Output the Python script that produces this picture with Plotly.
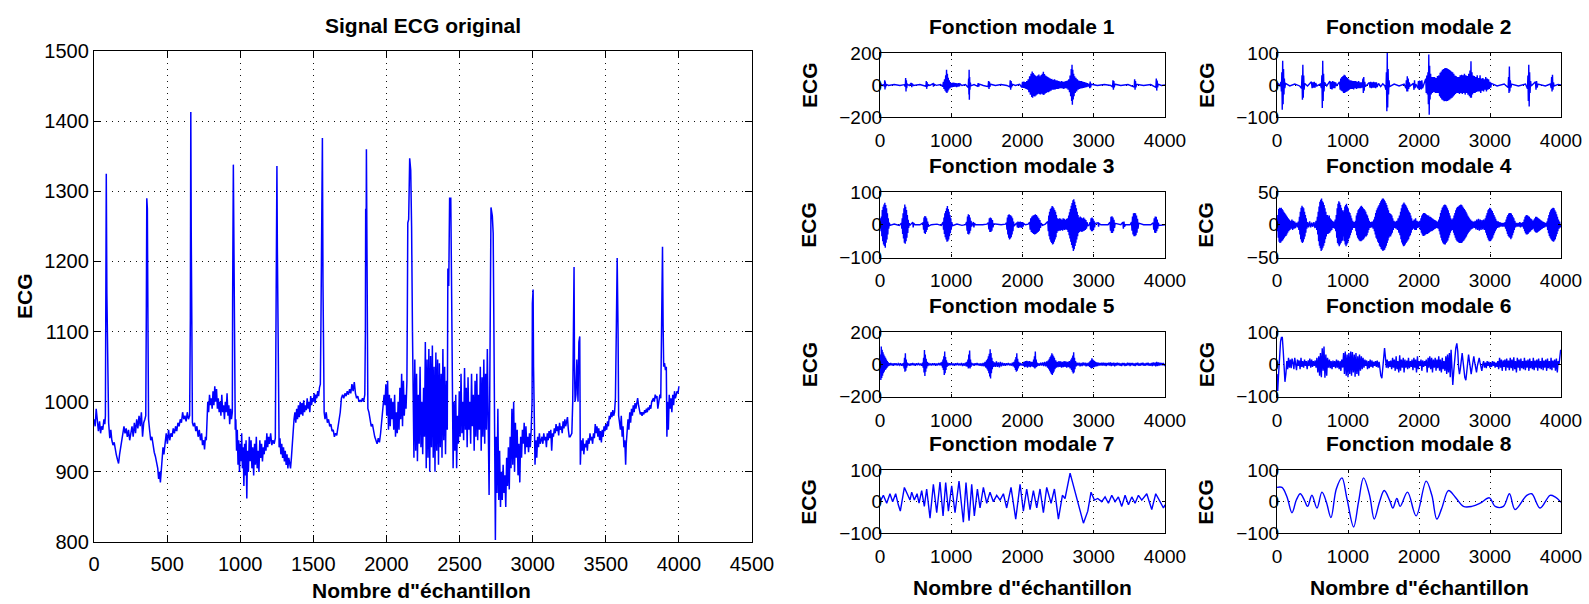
import plotly.graph_objects as go

# ---------------- data ----------------
# original ECG record: (sample index, amplitude)
ecg_points = [
    (0, 975), (8, 965), (15, 990), (22, 968), (30, 958), (38, 972), (45, 955), (52, 965), (60, 960), (68, 975), (74, 968), (78, 980),
    (80, 1090), (84, 1325), (88, 1155), (92, 1090), (96, 975),
    (100, 970), (108, 948), (115, 960), (122, 945), (130, 938), (138, 942), (145, 930), (152, 925), (160, 918), (168, 912), (175, 925),
    (182, 935), (190, 945), (198, 958), (205, 965), (212, 955), (220, 962), (228, 950), (236, 960), (244, 945), (252, 958), (260, 965),
    (268, 950), (276, 970), (284, 955), (292, 975), (300, 962), (308, 980), (316, 965), (324, 985), (332, 950), (340, 970), (348, 975), (354, 980),
    (358, 1135), (361, 1290), (365, 1275), (369, 1110), (373, 975),
    (380, 960), (388, 945), (396, 950), (404, 935), (412, 928), (420, 922), (428, 912), (436, 905), (442, 890), (448, 900), (454, 885),
    (460, 905), (466, 920), (472, 935), (478, 925), (486, 945), (494, 955), (502, 940), (510, 960), (518, 945), (526, 955), (534, 950),
    (542, 962), (550, 955), (558, 965), (566, 958), (574, 970), (582, 965), (590, 975), (598, 970), (606, 985), (614, 975), (622, 980),
    (630, 972), (638, 985), (646, 975), (654, 980),
    (659, 1120), (662, 1413), (665, 1240), (669, 1115), (673, 970),
    (680, 965), (688, 970), (696, 958), (704, 965), (712, 950), (720, 960), (728, 945), (736, 955), (742, 938), (750, 945), (756, 932),
    (762, 950), (768, 945), (772, 975), (778, 1000), (784, 985), (790, 1010), (796, 995), (802, 1005), (808, 990), (814, 1015), (820, 995),
    (826, 1022), (832, 1000), (838, 1018), (844, 990), (850, 1005), (856, 985), (862, 1000), (868, 980), (874, 1010), (880, 985),
    (886, 995), (892, 975), (898, 1000), (904, 985), (910, 1012), (916, 980), (922, 995), (928, 968), (934, 990), (940, 975), (946, 985),
    (948, 1145), (950, 1240), (953, 1338), (956, 1250), (958, 1150), (962, 1000),
    (966, 960), (970, 975), (975, 930), (980, 960), (985, 910), (990, 945), (995, 900), (1000, 940), (1005, 915), (1010, 955), (1015, 905),
    (1020, 935), (1025, 880), (1030, 940), (1035, 895), (1040, 945), (1045, 862), (1050, 930), (1056, 900), (1062, 950), (1068, 915),
    (1074, 945), (1080, 905), (1086, 935), (1092, 895), (1098, 940), (1104, 910), (1110, 950), (1116, 905), (1122, 930), (1128, 900),
    (1134, 945), (1140, 920), (1146, 940), (1152, 915), (1158, 935), (1164, 925), (1170, 945), (1176, 930), (1182, 955), (1188, 935),
    (1194, 950), (1200, 940), (1208, 955), (1216, 938), (1224, 945), (1232, 940), (1240, 948),
    (1244, 1150), (1248, 1250), (1251, 1336), (1254, 1220), (1257, 1150), (1261, 950),
    (1266, 935), (1272, 948), (1278, 925), (1284, 940), (1290, 920), (1296, 935), (1302, 915), (1308, 930), (1314, 910), (1320, 925),
    (1326, 905), (1332, 920), (1338, 910), (1344, 905), (1350, 920), (1356, 945), (1362, 955), (1368, 975), (1374, 985), (1380, 970),
    (1386, 990), (1392, 975), (1398, 995), (1404, 978), (1410, 1000), (1416, 982), (1422, 998), (1428, 980), (1434, 1002), (1440, 985),
    (1446, 995), (1452, 988), (1458, 1005), (1464, 990), (1470, 1000), (1476, 985), (1482, 1008), (1488, 995), (1494, 1005), (1500, 1000),
    (1506, 1012), (1512, 998), (1518, 1010), (1524, 1005), (1530, 1015), (1536, 1008), (1542, 1020), (1548, 1025),
    (1552, 1110), (1555, 1245), (1559, 1290), (1562, 1376), (1566, 1170), (1570, 1100), (1574, 985),
    (1580, 975), (1588, 985), (1596, 970), (1604, 975), (1612, 965), (1620, 968), (1628, 958), (1636, 960), (1644, 950), (1652, 955),
    (1660, 952), (1668, 965), (1676, 970), (1684, 985), (1692, 1005), (1700, 1010), (1708, 1005), (1716, 1012), (1724, 1008), (1732, 1015),
    (1740, 1010), (1748, 1018), (1756, 1012), (1764, 1025), (1772, 1015), (1780, 1028), (1788, 1012), (1796, 1005), (1804, 1008),
    (1812, 1000), (1820, 1002), (1828, 1000), (1836, 1005), (1844, 1000), (1852, 1010),
    (1856, 1100), (1858, 1275), (1861, 1225), (1863, 1360), (1866, 1245), (1869, 1100), (1873, 990),
    (1880, 985), (1888, 975), (1896, 965), (1904, 968), (1912, 955), (1920, 950), (1928, 945), (1936, 940), (1944, 948), (1952, 942),
    (1960, 955), (1968, 975), (1976, 990), (1984, 1010), (1990, 995), (1996, 1025), (2002, 980), (2008, 1030), (2014, 960), (2020, 1010),
    (2026, 965), (2032, 1005), (2038, 975), (2044, 1000), (2050, 960), (2056, 1010), (2062, 950), (2068, 985), (2074, 955), (2080, 1000),
    (2086, 960), (2092, 1020), (2098, 975), (2104, 1040), (2110, 965), (2116, 1030), (2122, 980), (2128, 1010), (2134, 990), (2140, 1030),
    (2143, 1130), (2146, 1255), (2152, 1260), (2159, 1347), (2166, 1330), (2172, 1250), (2178, 1100), (2183, 980),
    (2188, 920), (2194, 1060), (2200, 930), (2206, 1040), (2212, 915), (2218, 1010), (2224, 940), (2230, 1050), (2236, 935), (2242, 1000),
    (2248, 925), (2254, 1020), (2260, 950), (2266, 1085), (2272, 905), (2278, 1060), (2284, 920), (2290, 1075), (2296, 900), (2302, 1065),
    (2308, 935), (2314, 1080), (2320, 920), (2326, 1050), (2332, 900), (2338, 1070), (2344, 930), (2350, 1060), (2356, 910), (2362, 1055),
    (2368, 935), (2374, 1040), (2380, 920), (2386, 1075), (2392, 945), (2398, 1050), (2404, 925), (2410, 1030), (2416, 960),
    (2420, 1190), (2426, 1165), (2432, 1290), (2440, 1290), (2446, 1150), (2450, 990),
    (2456, 905), (2462, 1000), (2468, 930), (2474, 1010), (2480, 905), (2486, 980), (2492, 940), (2498, 1015),
    (2504, 950), (2510, 1040), (2516, 955), (2522, 1000), (2528, 945), (2534, 1048), (2540, 960), (2546, 1020), (2552, 935), (2558, 1035),
    (2564, 960), (2570, 1000), (2576, 940), (2582, 1040), (2588, 965), (2594, 1010), (2600, 930), (2606, 1030), (2612, 950), (2618, 1040),
    (2624, 945), (2630, 1010), (2636, 960), (2642, 1050), (2648, 930), (2654, 1035), (2660, 950), (2666, 1060), (2672, 940), (2678, 1040),
    (2684, 960), (2690, 1075), (2696, 920), (2702, 867), (2706, 1000),
    (2710, 1100), (2715, 1277), (2724, 1265), (2730, 1240), (2735, 1100),
    (2745, 803), (2750, 950), (2756, 870), (2762, 990), (2768, 860), (2774, 930), (2780, 850), (2786, 900), (2792, 860), (2798, 910),
    (2804, 870), (2810, 895), (2816, 850), (2822, 920), (2828, 880), (2834, 935), (2840, 875), (2846, 950), (2852, 905), (2858, 990),
    (2864, 910), (2870, 1000), (2876, 900), (2882, 970), (2888, 920), (2894, 960), (2900, 895), (2906, 940), (2912, 885), (2918, 950),
    (2924, 920), (2930, 960), (2936, 940), (2942, 970), (2948, 925), (2954, 965), (2960, 935), (2966, 950), (2972, 928), (2978, 955),
    (2984, 935), (2990, 960), (2996, 1000),
    (2998, 1140), (3003, 1160), (3006, 1050), (3010, 960),
    (3016, 910), (3022, 945), (3028, 920), (3034, 950), (3040, 935), (3046, 955), (3052, 940), (3058, 945), (3064, 950), (3070, 940),
    (3076, 955), (3082, 945), (3088, 950), (3094, 935), (3100, 955), (3106, 945), (3112, 958), (3118, 948), (3124, 960), (3130, 930),
    (3136, 955), (3142, 950), (3148, 962), (3154, 955), (3160, 968), (3166, 958), (3172, 965), (3178, 952), (3184, 970), (3190, 960),
    (3196, 965), (3202, 955), (3208, 972), (3214, 962), (3220, 975), (3226, 965), (3232, 970), (3238, 978), (3244, 960), (3250, 950),
    (3256, 950), (3262, 952), (3268, 955),
    (3274, 1000), (3278, 1100), (3283, 1192), (3286, 1050), (3290, 1000), (3296, 1010), (3302, 1060), (3310, 1000), (3316, 1085),
    (3322, 1093), (3326, 910),
    (3332, 945), (3338, 930), (3344, 948), (3350, 925), (3356, 940), (3362, 935), (3368, 945), (3374, 930), (3380, 948), (3386, 940),
    (3392, 955), (3398, 945), (3404, 950), (3410, 940), (3416, 955), (3422, 948), (3428, 968), (3434, 955), (3440, 965), (3446, 950),
    (3452, 962), (3458, 945), (3464, 958), (3470, 942), (3476, 960), (3482, 950), (3488, 965), (3494, 958), (3500, 968), (3506, 960),
    (3512, 972), (3518, 965), (3524, 980), (3530, 975), (3536, 985), (3542, 978), (3548, 988), (3554, 980), (3560, 985), (3566, 1005),
    (3572, 1100), (3578, 1205), (3584, 1100), (3588, 980),
    (3594, 970), (3600, 960), (3606, 980), (3612, 950), (3618, 965), (3624, 935), (3630, 945), (3636, 910), (3640, 940), (3646, 960),
    (3652, 975), (3658, 960), (3664, 985), (3670, 970), (3676, 990), (3682, 980), (3688, 995), (3694, 985), (3700, 998), (3706, 990),
    (3712, 1000), (3718, 1005), (3724, 995), (3730, 990), (3736, 982), (3742, 985), (3748, 980), (3754, 985), (3760, 982), (3766, 988),
    (3772, 984), (3778, 990), (3784, 985), (3790, 992), (3796, 988), (3802, 995), (3808, 990), (3814, 1000), (3820, 1002), (3826, 1005),
    (3832, 1000), (3838, 1010), (3844, 1005), (3850, 1008), (3856, 990), (3862, 1000), (3870, 1010), (3876, 1005),
    (3882, 1100), (3888, 1221), (3892, 1110), (3896, 1050), (3902, 1055), (3908, 1045), (3914, 1050), (3918, 950),
    (3922, 1000), (3928, 960), (3934, 1010), (3940, 990), (3946, 1005), (3952, 985), (3958, 1010), (3964, 995), (3970, 1015),
    (3976, 1005), (3982, 1010), (3988, 1015), (3994, 1012), (4000, 1022),
]

# intrinsic mode functions 1..8: (sample index, amplitude)
imf1_points = [
    (0, 0), (20, 4), (40, -4), (55, 3), (62, -10), (66, 30), (70, -28), (74, 22), (78, -15), (84, 5),
    (120, -3), (200, 3), (280, -3), (340, 2), (355, -10), (360, 44), (365, -40), (370, 30), (375, -20), (382, 6),
    (410, -3), (440, 12), (446, -14), (452, 8), (470, -3), (560, 3), (630, -3),
    (645, -8), (650, 25), (655, -24), (660, 18), (666, -10), (672, 3),
    (700, -3), (745, 8), (750, -10), (756, 6), (790, -2), (850, 3),
    (880, -10), (890, 20), (898, -25), (906, 35), (914, -35), (922, 60), (928, -45), (934, 96), (940, -50), (946, 70), (952, -40),
    (958, 45), (964, -30), (972, 30), (980, -22), (988, 18), (996, -15), (1006, 12),
    (1015, -14), (1025, 15), (1035, -12), (1045, 14), (1055, -10), (1065, 12), (1075, -14), (1085, 10), (1095, -10), (1105, 12),
    (1115, -8), (1125, 6), (1150, -3), (1200, 3),
    (1238, -15), (1244, 40), (1248, -60), (1251, 96), (1254, -92), (1258, 50), (1262, -30), (1268, 15), (1276, -5),
    (1320, 3), (1370, -8), (1378, 12), (1386, -10), (1394, 5), (1450, -3),
    (1518, -10), (1524, 25), (1530, -25), (1536, 20), (1542, -12), (1550, 5),
    (1620, -3), (1700, 3), (1780, -3),
    (1822, -12), (1828, 30), (1834, -30), (1840, 25), (1846, -15), (1854, 5),
    (1900, -3), (1960, 4),
    (1990, -15), (2000, 20), (2010, -18), (2020, 22), (2030, -20), (2040, 18), (2050, -25), (2060, 25), (2070, -30), (2080, 35),
    (2090, -45), (2100, 55), (2110, -60), (2120, 70), (2130, -75), (2136, 85), (2142, -80), (2150, 75), (2158, -70), (2166, 65),
    (2174, -72), (2182, 60), (2190, -65), (2198, 55), (2206, -60), (2214, 60), (2222, -55), (2230, 65), (2238, -58), (2246, 55),
    (2254, -60), (2262, 62), (2270, -55), (2278, 70), (2286, -60), (2293, 82), (2300, -62), (2308, 68), (2316, -55), (2324, 60),
    (2332, -50), (2340, 55), (2348, -45), (2356, 50), (2364, -45), (2372, 45), (2380, -40), (2390, 40), (2400, -35), (2410, 38),
    (2420, -30), (2430, 32), (2440, -30), (2450, 35), (2460, -28), (2470, 30), (2480, -25), (2490, 28), (2500, -25), (2510, 25),
    (2520, -22), (2530, 22), (2540, -20), (2550, 25), (2560, -22), (2570, 20), (2580, -25), (2590, 22), (2600, -20), (2610, 25),
    (2620, -22), (2630, 28), (2640, -30), (2650, 35), (2660, -45), (2668, 60), (2676, -70), (2684, 100), (2690, -100), (2695, 127),
    (2700, -123), (2706, 95), (2712, -90), (2718, 70), (2724, -70), (2732, 55), (2740, -50), (2750, 45), (2760, -40), (2770, 35),
    (2780, -30), (2790, 28), (2800, -25), (2810, 25), (2820, -22), (2830, 25), (2840, -20), (2850, 20), (2860, -18), (2870, 18),
    (2880, -15), (2890, 15), (2900, -14), (2910, 12), (2920, -10), (2935, 8),
    (2945, -20), (2950, 22), (2956, -15), (2965, 5),
    (3050, -3), (3150, 3), (3240, -3),
    (3264, -12), (3270, 30), (3276, -30), (3282, 25), (3288, -15), (3296, 5),
    (3380, -3), (3480, 3),
    (3568, -12), (3574, 35), (3580, -30), (3586, 25), (3592, -15), (3600, 5),
    (3700, -3), (3800, 3),
    (3872, -15), (3878, 40), (3884, -35), (3890, 28), (3896, -15), (3904, 5),
    (3950, -3), (4000, 0),
]

imf2_points = [
    (0, 0), (20, 3), (40, -3), (55, 10), (62, -20), (68, 40), (74, -77), (80, 76), (86, -60), (92, 50), (98, -30), (104, 20),
    (110, -10), (120, 5), (180, -3), (250, 3), (320, -3),
    (345, -10), (352, 30), (358, -46), (364, 63), (370, -40), (376, 30), (382, -15), (390, 5),
    (430, -3), (485, 10), (495, -10), (505, 8), (515, -8), (525, 10), (535, -8), (545, 6), (560, -3), (610, 3),
    (625, -10), (632, 30), (638, -72), (644, 76), (650, -50), (656, 35), (662, -20), (670, 8),
    (700, -3), (745, 12), (755, -12), (765, 10), (775, -14), (785, 12), (795, -10), (805, 10), (815, -10), (825, 8), (840, -3),
    (880, 10), (890, -15), (898, 20), (906, -18), (914, 25), (922, -20), (930, 28), (938, -25), (946, 32), (954, -25), (962, 30),
    (970, -22), (978, 25), (986, -20), (994, 22), (1002, -18), (1010, 18), (1020, -15), (1030, 15), (1040, -12), (1050, 14),
    (1060, -12), (1070, 12), (1080, -14), (1090, 12), (1100, -10), (1110, 12), (1120, -12), (1130, 10), (1140, -10), (1150, 12),
    (1160, -10), (1170, 8), (1180, -10), (1190, 8), (1200, -8),
    (1210, 20), (1216, -25), (1222, 25), (1228, -18), (1236, 10), (1245, -5),
    (1300, 8), (1310, -8), (1320, 10), (1330, -10), (1340, 8), (1350, -8), (1360, 10), (1370, -8), (1380, 8), (1390, -10),
    (1400, 8), (1410, -6), (1430, 5), (1460, -5), (1490, 4), (1520, -3),
    (1535, -15), (1541, 40), (1547, -82), (1553, 100), (1559, -70), (1565, 50), (1571, -30), (1578, 15), (1586, -5),
    (1650, 3), (1720, -3), (1790, 3),
    (1815, -10), (1822, 15), (1829, -20), (1835, 27), (1841, -20), (1848, 20), (1855, -12), (1862, 8), (1875, -3),
    (1920, 5), (1930, -15), (1937, 15), (1944, -10), (1955, 3),
    (1984, -10), (1992, 12), (2000, -15), (2008, 14), (2016, -12), (2024, 12), (2032, -14), (2040, 15), (2050, -10),
    (2095, 20), (2102, -25), (2110, 30), (2118, -30), (2126, 40), (2132, -60), (2138, 95), (2144, -93), (2150, 60), (2156, -45),
    (2164, 35), (2172, -30), (2180, 25), (2190, -25), (2200, 25), (2210, -22), (2220, 25), (2230, -25), (2240, 22), (2250, -25),
    (2260, 28), (2270, -25), (2280, 30), (2290, -35), (2298, 38), (2306, -40), (2314, 42), (2322, -45), (2330, 48), (2338, -48),
    (2346, 50), (2354, -51), (2362, 52), (2370, -50), (2378, 53), (2386, -51), (2394, 52), (2402, -50), (2410, 50), (2418, -48),
    (2426, 48), (2434, -45), (2442, 45), (2450, -42), (2458, 42), (2466, -40), (2474, 40), (2482, -36), (2490, 35), (2498, -32),
    (2506, 30), (2514, -28), (2522, 28), (2530, -25), (2540, 25), (2550, -25), (2560, 25), (2570, -28), (2580, 30), (2590, -25),
    (2600, 32), (2610, -28), (2620, 30), (2630, -25), (2640, 35), (2650, -30), (2660, 30), (2670, -25), (2680, 28), (2690, -30),
    (2700, 35), (2710, -35), (2718, 45), (2726, -40), (2732, 74), (2738, -40), (2746, 40), (2754, -30), (2762, 30), (2770, -25),
    (2780, 28), (2790, -25), (2800, 25), (2810, -22), (2820, 30), (2830, -20), (2840, 22), (2850, -20), (2860, 30), (2870, -25),
    (2880, 20), (2890, -18), (2900, 22), (2910, -20), (2920, 18), (2930, -15), (2940, 25), (2950, -20), (2960, 20), (2970, -15),
    (2980, 18), (2990, -12), (3000, 10), (3010, -8), (3020, 5),
    (3100, -3), (3200, 3),
    (3255, -8), (3262, 25), (3268, -25), (3273, 58), (3279, -20), (3286, 15), (3294, -8), (3302, 3),
    (3400, -3), (3500, 3),
    (3528, -12), (3534, 30), (3540, -50), (3546, 63), (3552, -67), (3558, 40), (3564, -25), (3572, 12), (3580, -3),
    (3640, 10), (3648, -15), (3656, 12), (3664, -8), (3675, 3),
    (3780, -3), (3850, 3),
    (3862, -10), (3868, 25), (3874, -20), (3880, 32), (3886, -15), (3894, 8), (3902, -3),
    (3960, 2), (4000, 0),
]

imf3_points = [
    (0, 0), (8, 20), (14, -20), (20, 25), (26, -35), (32, 45), (38, -50), (44, 55), (50, -60), (56, 62), (62, -65), (68, 67),
    (74, -70), (80, 60), (86, -55), (92, 50), (98, -45), (104, 35), (110, -30), (116, 20), (122, -12), (130, 6), (140, -2),
    (200, 2), (270, -2),
    (300, 5), (306, -12), (312, 20), (318, -28), (324, 35), (330, -42), (336, 50), (342, -55), (348, 62), (354, -58), (360, 55),
    (366, -50), (372, 45), (378, -40), (384, 30), (390, -25), (396, 15), (402, -10), (410, 5), (420, -2),
    (460, 8), (466, -8), (472, 5), (490, 0), (560, 0),
    (605, 6), (612, -15), (618, 22), (624, -25), (630, 27), (636, -28), (642, 25), (648, -22), (654, 20), (660, -16), (668, 10),
    (676, -5), (720, 0), (800, 2), (860, -2),
    (885, 8), (892, -15), (898, 22), (904, -28), (910, 35), (916, -38), (922, 42), (928, -45), (934, 50), (940, -52), (946, 57),
    (952, -50), (958, 48), (964, -45), (970, 40), (976, -35), (982, 30), (988, -25), (994, 20), (1000, -15), (1008, 8), (1016, -3),
    (1080, 2), (1150, -2), (1200, 0),
    (1215, 8), (1222, -18), (1228, 25), (1234, -28), (1240, 32), (1246, -30), (1252, 30), (1258, -26), (1264, 22), (1270, -18),
    (1278, 12), (1286, -5),
    (1310, 8), (1318, -8), (1326, 5), (1340, 0), (1440, 0), (1500, 2),
    (1520, 6), (1528, -14), (1535, 20), (1542, -22), (1549, 22), (1556, -22), (1563, 20), (1570, -18), (1578, 14), (1586, -8),
    (1594, 3), (1700, 0), (1760, 2),
    (1775, 6), (1782, -15), (1788, 22), (1794, -30), (1800, 30), (1806, -40), (1812, 32), (1818, -45), (1824, 30), (1830, -42),
    (1836, 28), (1842, -38), (1848, 25), (1854, -30), (1860, 20), (1866, -20), (1874, 10), (1882, -4),
    (1920, 6), (1928, -8), (1936, 10), (1944, -10), (1952, 8), (1960, -8), (1968, 10), (1976, -8), (1984, 8), (1992, -10),
    (2000, 8), (2008, -6), (2016, 4), (2040, 0), (2080, 2),
    (2100, 8), (2108, -15), (2116, 20), (2124, -22), (2132, 25), (2140, -25), (2148, 28), (2156, -28), (2164, 30), (2172, -30),
    (2180, 32), (2188, -28), (2196, 30), (2204, -25), (2212, 25), (2220, -22), (2228, 20), (2236, -18), (2244, 14), (2252, -10),
    (2262, 5), (2280, -2), (2320, 2),
    (2355, 10), (2362, -20), (2368, 28), (2374, -35), (2380, 40), (2386, -45), (2392, 48), (2398, -52), (2404, 52), (2410, -56),
    (2416, 57), (2422, -60), (2428, 55), (2434, -58), (2440, 50), (2446, -52), (2452, 45), (2458, -45), (2464, 40), (2470, -38),
    (2476, 30), (2482, -25),
    (2490, 20), (2498, -20), (2506, 18), (2514, -18), (2522, 20), (2530, -18), (2538, 18), (2546, -16), (2554, 15), (2562, -18),
    (2570, 20), (2578, -15), (2586, 18), (2594, -16), (2602, 15), (2610, -14), (2618, 18), (2626, -16), (2634, 20), (2640, -22),
    (2648, 28), (2654, -32), (2660, 38), (2666, -42), (2672, 48), (2678, -52), (2684, 58), (2690, -62), (2696, 66), (2702, -70),
    (2708, 75), (2714, -80), (2720, 78), (2726, -75), (2732, 70), (2738, -65), (2744, 60), (2750, -55), (2756, 50), (2762, -45),
    (2768, 40), (2774, -35), (2780, 30), (2786, -25),
    (2794, 22), (2802, -22), (2810, 25), (2818, -20), (2826, 22), (2834, -22), (2842, 20), (2850, -20), (2858, 22), (2866, -18),
    (2874, 18), (2882, -16), (2890, 14), (2898, -12), (2906, 8), (2916, -4), (2935, 0),
    (2948, 8), (2955, -15), (2962, 20), (2969, -20), (2976, 22), (2983, -20), (2990, 18), (2997, -16), (3004, 12), (3012, -8),
    (3020, 4), (3060, 6), (3068, -6), (3076, 4), (3100, 0), (3200, 0),
    (3228, 8), (3235, -18), (3242, 24), (3249, -25), (3256, 26), (3263, -25), (3270, 22), (3277, -20), (3284, 15), (3292, -10),
    (3300, 4), (3380, 0), (3408, 8), (3416, -12), (3424, 10), (3432, -6), (3445, 0), (3510, 0),
    (3530, 8), (3537, -18), (3544, 25), (3551, -30), (3558, 35), (3565, -35), (3572, 36), (3579, -35), (3586, 35), (3593, -32),
    (3600, 28), (3607, -24), (3614, 18), (3622, -12), (3630, 5), (3700, 0), (3800, 0),
    (3835, 6), (3842, -15), (3849, 20), (3856, -24), (3863, 25), (3870, -25), (3877, 24), (3884, -20), (3891, 16), (3898, -12),
    (3906, 6), (3915, -2), (3960, 0), (4000, 0),
]

imf4_points = [
    (0, 0), (6, -10), (12, 15), (18, -20), (24, 24), (30, -26), (36, 26), (42, -28), (48, 25), (54, -27), (60, 26), (66, -25),
    (72, 24), (78, -24), (84, 22), (90, -22), (96, 20), (102, -20), (108, 18), (114, -18), (120, 16), (126, -17), (132, 14),
    (138, -15), (144, 12), (150, -12), (158, 10), (166, -10), (174, 8), (182, -8), (190, 6), (200, -6), (210, 8), (220, -8),
    (230, 6), (240, -6), (250, 5), (260, -5), (275, 3), (290, -4), (300, 5),
    (308, -8), (316, 12), (322, -15), (328, 20), (334, -22), (340, 26), (346, -26), (352, 29), (358, -28), (364, 27), (370, -26),
    (376, 25), (382, -22), (388, 20), (394, -18), (400, 15), (406, -12), (412, 10), (420, -6), (430, 4), (445, -4), (460, 5),
    (475, -4), (490, 3), (505, -3), (520, 4), (535, -5), (550, 6), (560, -8),
    (568, 12), (574, -15), (580, 20), (586, -25), (592, 28), (598, -32), (604, 35), (610, -36), (616, 38), (622, -40), (628, 40),
    (634, -38), (640, 36), (646, -35), (652, 34), (658, -32), (664, 30), (670, -28), (676, 25), (682, -22), (688, 20), (694, -18),
    (700, 15), (706, -14), (712, 15), (718, -14), (724, 12), (730, -13), (736, 14), (742, -12), (748, 10), (756, -10), (764, 8),
    (772, -8), (780, 6), (790, -5), (800, 5), (810, -6), (820, 8), (828, -10),
    (835, 15), (841, -20), (847, 25), (853, -28), (859, 32), (865, -30), (871, 36), (877, -33), (883, 34), (889, -30), (895, 30),
    (901, -28), (907, 26), (913, -25), (919, 22), (925, -24), (931, 20), (937, -18), (943, 22), (949, -25), (955, 28), (961, -30),
    (967, 30), (973, -33), (979, 32), (985, -30), (991, 28), (997, -28), (1003, 25), (1009, -22), (1015, 20), (1021, -20),
    (1027, 18), (1033, -16), (1039, 14), (1045, -12), (1051, 10), (1059, -8), (1067, 6), (1075, -5), (1085, 4), (1095, -5),
    (1105, 6),
    (1112, -10), (1118, 14), (1124, -16), (1130, 18), (1136, -20), (1142, 22), (1148, -22), (1154, 24), (1160, -24), (1166, 26),
    (1172, -25), (1178, 28), (1184, -25), (1190, 29), (1196, -24), (1202, 27), (1208, -23), (1214, 25), (1220, -22), (1226, 24),
    (1232, -20), (1238, 22), (1244, -18), (1250, 20), (1256, -18), (1262, 16), (1268, -16), (1274, 14), (1280, -12), (1286, 10),
    (1292, -8), (1300, 6), (1310, -5), (1320, 4), (1330, -4), (1342, 5), (1354, -6), (1364, 8),
    (1372, -10), (1378, 12), (1384, -15), (1390, 18), (1396, -20), (1402, 22), (1408, -22), (1414, 25), (1420, -26), (1426, 28),
    (1432, -28), (1438, 30), (1444, -32), (1450, 33), (1456, -34), (1462, 36), (1468, -37), (1474, 38), (1480, -38), (1486, 40),
    (1492, -40), (1498, 40), (1504, -39), (1510, 38), (1516, -38), (1522, 36), (1528, -35), (1534, 33), (1540, -32), (1546, 30),
    (1552, -28), (1558, 26), (1564, -24), (1570, 22), (1576, -20), (1582, 18), (1588, -18), (1594, 17), (1600, -18), (1606, 16),
    (1612, -15), (1618, 14), (1624, -12), (1630, 10), (1638, -8), (1646, 6), (1656, -5), (1666, 5), (1676, -6), (1686, 6),
    (1696, -8), (1706, 10), (1716, -12), (1724, 14), (1732, -16),
    (1740, 20), (1746, -22), (1752, 25), (1758, -27), (1764, 30), (1770, -30), (1776, 32), (1782, -33), (1788, 34), (1794, -32),
    (1800, 32), (1806, -30), (1812, 30), (1818, -28), (1824, 28), (1830, -26), (1836, 25), (1842, -24), (1848, 22), (1854, -22),
    (1860, 20), (1866, -18), (1872, 18), (1878, -16), (1884, 14), (1890, -12), (1896, 10), (1904, -8), (1912, 6), (1922, -6),
    (1932, 8), (1942, -8), (1952, 10), (1962, -8), (1972, 6), (1982, -5), (1992, 5), (2002, -4), (2012, 6), (2020, -8),
    (2028, 10), (2034, -12), (2040, 14), (2046, -15), (2052, 16), (2058, -17), (2064, 18), (2070, -17), (2076, 18), (2082, -16),
    (2088, 17), (2094, -15), (2100, 16), (2106, -14), (2112, 15), (2118, -14), (2124, 14), (2130, -13), (2136, 14), (2142, -12),
    (2148, 12), (2154, -11), (2160, 12), (2166, -10), (2172, 11), (2178, -10), (2184, 10), (2190, -9), (2196, 9), (2202, -8),
    (2208, 8), (2216, -7), (2224, 7), (2232, -6), (2240, 6), (2250, -5), (2260, 5), (2270, -6), (2280, 8),
    (2286, -10), (2292, 12), (2298, -15), (2304, 18), (2310, -20), (2316, 22), (2322, -24), (2328, 26), (2334, -27), (2340, 28),
    (2346, -29), (2352, 30), (2358, -30), (2364, 31), (2370, -30), (2376, 30), (2382, -28), (2388, 28), (2394, -26), (2400, 25),
    (2406, -24), (2412, 22), (2418, -20), (2424, 18), (2430, -16), (2436, 14), (2442, -12), (2448, 10), (2456, -9), (2464, 8),
    (2472, -8), (2480, 10), (2488, -12),
    (2494, 14), (2500, -16), (2506, 18), (2512, -20), (2518, 22), (2524, -23), (2530, 25), (2536, -25), (2542, 27), (2548, -26),
    (2554, 28), (2560, -27), (2566, 29), (2572, -28), (2578, 30), (2584, -28), (2590, 31), (2596, -28), (2602, 30), (2608, -27),
    (2614, 28), (2620, -25), (2626, 26), (2632, -24), (2638, 24), (2644, -22), (2650, 22), (2656, -20), (2662, 20), (2668, -18),
    (2674, 17), (2680, -15), (2686, 14), (2692, -13), (2698, 12), (2704, -11), (2710, 10), (2718, -9), (2726, 8), (2734, -7),
    (2744, 6), (2754, -6), (2766, 5), (2778, -5), (2790, 6), (2802, -7), (2814, 8), (2826, -8), (2838, 9), (2850, -9),
    (2862, 8), (2874, -8), (2886, 7), (2898, -7), (2910, 8), (2922, -8), (2934, 10), (2942, -12),
    (2948, 14), (2954, -16), (2960, 18), (2966, -20), (2972, 22), (2978, -23), (2984, 24), (2990, -25), (2996, 26), (3002, -25),
    (3008, 25), (3014, -24), (3020, 23), (3026, -22), (3032, 21), (3038, -20), (3044, 18), (3050, -16), (3056, 15), (3062, -13),
    (3068, 12), (3074, -10), (3080, 9), (3088, -7), (3096, 6), (3106, -5), (3116, 5), (3128, -4), (3140, 4), (3152, -3),
    (3164, 3), (3176, -3), (3188, 3), (3200, -3), (3212, 4), (3220, -6),
    (3228, 8), (3234, -10), (3240, 12), (3246, -14), (3252, 15), (3258, -17), (3264, 17), (3270, -19), (3276, 18), (3282, -20),
    (3288, 18), (3294, -22), (3300, 17), (3306, -20), (3312, 15), (3318, -16), (3324, 12), (3330, -12), (3336, 10), (3342, -8),
    (3350, 6), (3360, -4), (3372, 3), (3384, -3), (3396, 3), (3408, -3), (3420, 4), (3430, -4), (3440, 3), (3452, -3),
    (3464, 4), (3474, -6), (3482, 8),
    (3488, -10), (3494, 12), (3500, -13), (3506, 14), (3512, -15), (3518, 15), (3524, -15), (3530, 14), (3536, -14), (3542, 13),
    (3548, -12), (3554, 12), (3560, -11), (3566, 10), (3572, -10), (3578, 9), (3584, -8), (3590, 8), (3596, -7), (3604, 6),
    (3612, -6), (3620, 8),
    (3626, -9), (3632, 10), (3638, -11), (3644, 12), (3650, -12), (3656, 12), (3662, -12), (3668, 11), (3674, -11), (3680, 10),
    (3686, -10), (3692, 9), (3698, -9), (3704, 8), (3710, -8), (3716, 7), (3722, -7), (3728, 6), (3736, -6), (3744, 5),
    (3752, -5), (3760, 4), (3770, -4), (3782, 3), (3794, -3), (3806, 5),
    (3812, -8), (3818, 10), (3824, -13), (3830, 15), (3836, -17), (3842, 19), (3848, -20), (3854, 22), (3860, -22), (3866, 24),
    (3872, -24), (3878, 25), (3884, -25), (3890, 26), (3896, -26), (3902, 25), (3908, -24), (3914, 22), (3920, -22), (3926, 20),
    (3932, -18), (3938, 16), (3944, -14), (3950, 12), (3956, -10), (3964, 8), (3972, -6), (3980, 5), (3990, -4), (4000, 0),
]

imf5_points = [
    (0, 0), (6, 60), (12, -97), (18, 110), (24, -85), (30, 90), (36, -70), (42, 75), (48, -55), (54, 60), (60, -45), (66, 50),
    (72, -35), (78, 40), (84, -30), (90, 30), (96, -22), (102, 20), (108, -15), (116, 12), (124, -10), (132, 8), (140, -6),
    (150, 8), (160, -6), (172, 5), (185, -8), (198, 6), (210, -5), (225, 6), (240, -6), (255, 5), (270, -5), (285, 6),
    (300, -8), (315, 5), (325, -10),
    (332, 10), (338, -25), (344, 40), (350, -45), (356, 68), (362, -40), (368, 30), (374, -20), (382, 10), (392, -6), (405, 5),
    (420, -8), (432, 6), (445, -6), (458, 8), (470, -6), (482, 5), (495, -8), (510, 6), (525, -5), (540, 8), (555, -6),
    (570, 5), (585, -8), (598, 10),
    (606, -20), (612, 40), (618, -50), (624, 89), (630, -72), (636, 60), (642, -45), (648, 35), (654, -25), (662, 15), (672, -10),
    (684, 8), (698, -6), (712, 5), (726, -6), (740, 6), (754, -5), (768, 6), (782, -8), (796, 5), (810, -6), (824, 8),
    (838, -6), (852, 10), (862, -8), (870, 15),
    (878, -20), (884, 30), (890, -35), (896, 50), (902, -66), (908, 79), (914, -55), (920, 45), (926, -35), (932, 25), (940, -15),
    (950, 10), (962, -8), (976, 6), (990, -5), (1004, 8), (1018, -6), (1032, 5), (1046, -8), (1060, 6), (1074, -5), (1088, 8),
    (1102, -6), (1116, 5), (1130, -6), (1144, 8), (1158, -10), (1172, 6), (1186, -8), (1200, 10), (1210, -12), (1220, 15),
    (1228, -15), (1234, 30), (1240, -25), (1246, 60), (1252, -20), (1258, 85), (1264, -25), (1270, 30), (1276, -15), (1284, 10),
    (1294, -6), (1306, 5), (1320, -8), (1334, 6), (1348, -5), (1362, 8), (1376, -6), (1390, 5), (1404, -8), (1418, 6),
    (1432, -10), (1446, 8), (1460, -12), (1474, 15), (1486, -20), (1496, 25),
    (1504, -30), (1510, 35), (1516, -40), (1522, 50), (1528, -55), (1534, 65), (1540, -75), (1546, 93), (1552, -87), (1558, 70),
    (1564, -55), (1570, 40), (1576, -30), (1584, 20), (1594, -15), (1606, 12), (1620, -15), (1634, 18), (1648, -15), (1662, 12),
    (1676, -18), (1690, 15), (1704, -12), (1718, 10), (1732, -8), (1746, 6), (1760, -8), (1774, 6), (1788, -5), (1802, 8),
    (1816, -6), (1830, 5), (1844, -8), (1858, 10), (1870, -12), (1880, 15),
    (1890, -20), (1896, 30), (1902, -35), (1908, 45), (1914, -45), (1920, 68), (1926, -40), (1932, 35), (1938, -25), (1946, 15),
    (1956, -10), (1968, 8), (1980, -6), (1994, 5), (2008, -8),
    (2020, 15), (2030, -18), (2040, 20), (2050, -15), (2060, 22), (2070, -20), (2080, 18), (2090, -15), (2100, 20), (2110, -18),
    (2120, 15), (2130, -12), (2140, 15),
    (2150, -15), (2156, 30), (2162, -20), (2168, 50), (2174, -25), (2180, 79), (2186, -20), (2192, 30), (2198, -15), (2206, 10),
    (2216, -8), (2228, 6), (2242, -8), (2256, 10), (2270, -8), (2284, 12), (2298, -10), (2312, 15), (2326, -12), (2340, 18),
    (2352, -20), (2362, 25),
    (2370, -30), (2376, 35), (2382, -40), (2388, 45), (2394, -50), (2400, 55), (2406, -60), (2412, 68), (2418, -66), (2424, 60),
    (2430, -55), (2436, 50), (2442, -45), (2448, 40), (2456, -30), (2466, 25), (2476, -20), (2488, 15), (2500, -18), (2512, 20),
    (2524, -15), (2536, 18), (2548, -20), (2560, 15), (2572, -18), (2584, 20), (2596, -15), (2608, 18), (2620, -20), (2632, 15),
    (2644, -18), (2656, 20), (2668, -25), (2680, 30),
    (2688, -35), (2694, 40), (2700, -45), (2706, 55), (2712, -56), (2718, 75), (2724, -50), (2730, 40), (2736, -30), (2744, 20),
    (2754, -12), (2766, 10), (2780, -8), (2794, 10), (2808, -12), (2822, 8), (2836, -10), (2850, 12), (2864, -8), (2878, 10),
    (2892, -12), (2906, 8), (2920, -10), (2934, 12),
    (2944, -15), (2950, 20), (2956, -20), (2962, 25), (2968, -25), (2974, 37), (2980, -22), (2986, 30), (2992, -20), (2998, 25),
    (3004, -18), (3010, 20), (3016, -15), (3024, 15), (3034, -12), (3044, 12), (3054, -10), (3066, 10), (3078, -8), (3090, 8),
    (3102, -8), (3114, 10), (3126, -8), (3138, 10), (3150, -8), (3162, 8), (3174, -10), (3186, 8), (3198, -6), (3210, 10),
    (3222, -8), (3234, 12), (3246, -10), (3258, 8), (3270, -8), (3282, 10), (3294, -12), (3306, 8), (3318, -8), (3330, 10),
    (3342, -6), (3354, 8), (3366, -8), (3378, 6), (3390, -10), (3402, 8), (3414, -6), (3426, 8), (3438, -10), (3450, 6),
    (3462, -8), (3474, 10), (3486, -6), (3498, 8), (3510, -10), (3522, 8), (3534, -6), (3546, 8), (3558, -8), (3570, 6),
    (3582, -10), (3594, 8), (3606, -6), (3618, 10), (3630, -8), (3642, 6), (3654, -8), (3666, 8), (3678, -6), (3690, 10),
    (3702, -8), (3714, 6), (3726, -8), (3738, 8), (3750, -6), (3762, 10), (3774, -8), (3786, 6), (3798, -8), (3810, 8),
    (3822, -10), (3834, 12), (3846, -8), (3858, 10), (3870, -12), (3882, 15), (3894, -10), (3906, 12), (3918, -8), (3930, 10),
    (3942, -6), (3954, 8), (3966, -6), (3978, 8), (3990, -5), (4000, 0),
]

imf6_points = [
    (0, -30), (10, -82), (20, -40), (35, 20), (50, 70), (62, 83), (75, 83), (88, 40), (100, -10), (112, -54), (125, -30),
    (138, 10), (150, -15), (162, 20), (175, -10), (188, 15), (200, -12), (212, 18), (225, 5), (238, -15), (250, 20), (262, 0),
    (275, -18), (288, 15), (300, -5), (312, 12), (325, -15), (338, 20), (350, -8), (362, 10), (375, -10), (388, 15), (400, -5),
    (412, 10), (425, -15), (438, 12), (450, -5), (462, 18), (475, -10), (488, 15), (500, -8), (512, 10), (525, -5), (538, 12),
    (550, -10), (562, 20), (575, -25), (588, 25), (600, -35), (612, 35), (625, -40), (637, 50), (650, -20), (662, 55), (675, -41),
    (688, 30), (700, -35), (712, 20), (725, -10), (738, 15), (750, -12), (762, 10), (775, -15), (788, 12), (800, -8), (812, 10),
    (825, -12), (838, 15), (850, -10), (862, 12), (875, -15), (888, 10), (900, -20), (912, 15), (925, -10), (938, 35), (950, -30),
    (962, 40), (975, -35), (988, 30), (1000, -40), (1012, 35), (1025, -30), (1038, 40), (1050, -35), (1062, 38), (1075, -25),
    (1088, 30), (1100, -38), (1112, 35), (1125, -30), (1138, 25), (1150, -35), (1162, 30), (1175, -20), (1188, 25), (1200, -15),
    (1212, 20), (1225, -10), (1238, 15), (1250, -5), (1262, 12), (1275, -15), (1288, 10), (1300, -12), (1312, 15), (1325, -8),
    (1338, 12), (1350, -10), (1362, 8), (1375, -5), (1388, 10), (1400, -8), (1412, 12), (1425, -10), (1438, 8), (1450, -20),
    (1462, -35), (1477, -43), (1490, -10), (1502, 30), (1515, 50), (1528, 20), (1540, -10), (1552, 15), (1565, -12), (1578, 10),
    (1590, -8), (1602, 12), (1615, -15), (1628, 20), (1640, -10), (1652, 15), (1665, -20), (1678, 25), (1690, -15), (1702, 10),
    (1715, -25), (1728, 28), (1740, -20), (1752, 15), (1765, -10), (1778, 20), (1790, -25), (1802, 15), (1815, -10), (1828, 12),
    (1840, -15), (1852, 20), (1865, -12), (1878, 10), (1890, -8), (1902, 15), (1915, -18), (1928, 20), (1940, -10), (1952, 15),
    (1965, -25), (1978, 25), (1990, -15), (2002, 10), (2015, -5), (2028, 15), (2040, -20), (2052, 12), (2065, -8), (2078, 10),
    (2090, -5), (2102, 15), (2115, -25), (2128, 20), (2140, -10), (2152, 25), (2165, -15), (2178, 20), (2190, -25), (2202, 15),
    (2215, -10), (2228, 20), (2240, -20), (2252, 15), (2265, -12), (2278, 25), (2290, -20), (2302, 15), (2315, -25), (2328, 20),
    (2340, -15), (2352, 10), (2365, -20), (2378, 25), (2390, -30), (2402, 30), (2415, -25), (2428, 35), (2440, -40), (2452, 45),
    (2465, -50), (2476, -64), (2490, -20), (2505, 30), (2518, 50), (2533, 65), (2546, 40), (2558, -10), (2570, -30), (2582, -15),
    (2595, 20), (2608, 35), (2620, 10), (2632, -25), (2645, -40), (2660, -49), (2672, -20), (2685, 15), (2698, 30), (2710, 10),
    (2722, -20), (2735, -30), (2748, -10), (2760, 20), (2772, 25), (2785, 5), (2798, -15), (2810, -25), (2822, -5), (2835, 15),
    (2848, 20), (2860, 5), (2872, -15), (2885, -20), (2898, 0), (2910, 10), (2922, -10), (2935, 5), (2948, -12), (2960, 10),
    (2972, -5), (2985, 8), (2998, -10), (3010, 5), (3022, -8), (3035, 10), (3048, -5), (3060, 8), (3072, -10), (3085, 5),
    (3098, -8), (3110, 10), (3122, -15), (3135, 20), (3148, -10), (3160, 15), (3172, -20), (3185, 12), (3198, -8), (3210, 15),
    (3222, -20), (3235, 18), (3248, -10), (3260, 12), (3272, -18), (3285, 20), (3298, -12), (3310, 15), (3322, -20), (3335, 22),
    (3348, -15), (3360, 10), (3372, -25), (3385, 20), (3398, -10), (3410, 15), (3422, -20), (3435, 18), (3448, -12), (3460, 10),
    (3472, -15), (3485, 20), (3498, -18), (3510, 12), (3522, -10), (3535, 15), (3548, -20), (3560, 18), (3572, -12), (3585, 10),
    (3598, -15), (3610, 20), (3622, -18), (3635, 12), (3648, -10), (3660, 15), (3672, -20), (3685, 18), (3698, -12), (3710, 10),
    (3722, -15), (3735, 20), (3748, -18), (3760, 12), (3772, -10), (3785, 15), (3798, -20), (3810, 18), (3822, -12), (3835, 10),
    (3848, -15), (3860, 20), (3872, -18), (3885, 12), (3898, -10), (3910, 15), (3922, -20), (3935, 18), (3948, -25), (3960, 10),
    (3972, 0), (3985, 30), (3995, 45), (4000, 40),
]

imf7_points = [
    (0, 0), (47, 20), (94, -5), (140, 25), (178, 0), (220, 25), (257, -10), (285, -30), (342, 45), (388, 20), (421, 5),
    (445, 30), (482, 5), (520, 25), (548, -5), (585, 35), (622, -15), (655, 40), (702, -52), (749, 55), (796, -35), (842, 62),
    (885, -45), (922, 60), (960, -30), (1006, 50), (1053, -35), (1109, 65), (1170, -65), (1207, 60), (1250, -60), (1287, 55),
    (1324, -45), (1367, 40), (1404, -20), (1451, 45), (1498, -5), (1544, 30), (1591, 0), (1638, 20), (1685, 5), (1732, 25),
    (1778, -20), (1839, 45), (1905, -55), (1966, 55), (2012, -30), (2059, 40), (2106, -25), (2153, 35), (2200, -20), (2246, 40),
    (2293, -35), (2340, 45), (2401, -5), (2448, 40), (2504, -55), (2560, 20), (2597, 10), (2668, 90), (2761, 10), (2855, -68),
    (2916, -30), (2962, 30), (3009, 5), (3056, 10), (3112, 0), (3159, 15), (3206, -5), (3253, 20), (3300, 0), (3346, 15),
    (3393, -15), (3440, 20), (3487, -10), (3534, 15), (3580, -5), (3627, 20), (3674, 5), (3744, 25), (3814, -25), (3870, 25),
    (3931, 0), (3978, -20), (4000, -10),
]

imf8_points = [
    (0, 45), (70, 45), (141, 15), (211, -35), (272, 5), (328, 25), (385, 5), (431, -15), (492, 20), (563, -20), (633, 30),
    (694, 0), (760, -50), (835, 40), (915, 75), (985, 10), (1079, -80), (1149, 0), (1219, 75), (1304, 20), (1370, -55),
    (1445, 0), (1510, 35), (1585, 5), (1632, -20), (1688, 10), (1735, -15), (1838, 30), (1960, -45), (2101, 65), (2181, 20),
    (2251, -55), (2322, -20), (2415, 35), (2509, 15), (2626, -15), (2744, -15), (2861, -5), (2992, 12), (3072, -15),
    (3189, -15), (3274, 25), (3353, -25), (3518, 20), (3588, 25), (3705, -20), (3846, 20), (3916, 15), (4000, -2),
]

imf_series = [imf1_points, imf2_points, imf3_points, imf4_points,
              imf5_points, imf6_points, imf7_points, imf8_points]
imf_titles = ["Fonction modale %d" % k for k in range(1, 9)]
imf_yticks = [[-200, 0, 200], [-100, 0, 100], [-100, 0, 100], [-50, 0, 50],
              [-200, 0, 200], [-100, 0, 100], [-100, 0, 100], [-100, 0, 100]]

main_xticks = [0, 500, 1000, 1500, 2000, 2500, 3000, 3500, 4000, 4500]
main_yticks = [800, 900, 1000, 1100, 1200, 1300, 1400, 1500]
imf_xticks = [0, 1000, 2000, 3000, 4000]

# ---------------- layout geometry ----------------
W, H = 1589, 604
TICK_FONT = "Liberation Sans, Arial, sans-serif"
BOLD_FONT = "Liberation Sans, Arial, sans-serif"
BOLD_SIZE = 21
BLUE = "#0000ff"


def px_x(p):
    return p / W


def px_y(p):
    return 1 - p / H


main_box = (94, 752, 51, 542)          # left, right, top, bottom in pixels
col_lr = [(880, 1165), (1277, 1561)]
row_tb = [(53, 117), (192, 257.5), (332, 396.7), (470, 533.3)]

fig = go.Figure()

axis_common = dict(
    showline=True, linecolor="black", linewidth=1.3, mirror="ticks",
    ticks="inside", tickcolor="black", automargin=False,
    showgrid=True, gridcolor="#111111", gridwidth=1, griddash="1px,5px",
    zeroline=False,
)

# main panel
ex = [p[0] for p in ecg_points]
ey = [p[1] for p in ecg_points]
fig.add_trace(go.Scatter(x=ex, y=ey, mode="lines", line=dict(color=BLUE, width=1.5),
                         xaxis="x", yaxis="y", showlegend=False))

layout = dict(
    width=W, height=H, margin=dict(l=0, r=0, t=0, b=0, autoexpand=False),
    paper_bgcolor="white", plot_bgcolor="white", showlegend=False,
)
layout["xaxis"] = dict(axis_common, domain=[px_x(main_box[0]), px_x(main_box[1])],
                       range=[0, 4500], tickvals=main_xticks, ticklen=7, ticklabelstandoff=4,
                       tickfont=dict(family=TICK_FONT, size=20, color="black"), anchor="y")
layout["yaxis"] = dict(axis_common, domain=[px_y(main_box[3]), px_y(main_box[2])],
                       range=[800, 1500], tickvals=main_yticks, ticklen=7,
                       tickfont=dict(family=TICK_FONT, size=20, color="black"), anchor="x")

annotations = [
    dict(text="<b>Signal ECG original</b>", x=px_x(423), y=px_y(25), xref="paper", yref="paper",
         showarrow=False, font=dict(family=BOLD_FONT, size=BOLD_SIZE, color="black"),
         xanchor="center", yanchor="middle"),
    dict(text="<b>Nombre d\"échantillon</b>", x=px_x(421), y=px_y(590), xref="paper", yref="paper",
         showarrow=False, font=dict(family=BOLD_FONT, size=BOLD_SIZE, color="black"),
         xanchor="center", yanchor="middle"),
    dict(text="<b>ECG</b>", x=px_x(24), y=px_y(296), xref="paper", yref="paper", textangle=-90,
         showarrow=False, font=dict(family=BOLD_FONT, size=BOLD_SIZE, color="black"),
         xanchor="center", yanchor="middle"),
]

for i, pts in enumerate(imf_series):
    n = i + 2
    row, col = divmod(i, 2)
    left, right = col_lr[col]
    top, bottom = row_tb[row]
    xs = [p[0] for p in pts]
    ys = [p[1] for p in pts]
    shape = "spline" if i == 7 else "linear"
    fig.add_trace(go.Scatter(x=xs, y=ys, mode="lines",
                             line=dict(color=BLUE, width=1.4, shape=shape),
                             xaxis="x%d" % n, yaxis="y%d" % n, showlegend=False))
    lim = imf_yticks[i][-1]
    layout["xaxis%d" % n] = dict(axis_common, domain=[px_x(left), px_x(right)],
                                 range=[0, 4000], tickvals=imf_xticks, ticklen=3,
                                 ticklabelstandoff=6,
                                 tickfont=dict(family=TICK_FONT, size=19, color="black"),
                                 anchor="y%d" % n)
    layout["yaxis%d" % n] = dict(axis_common, domain=[px_y(bottom), px_y(top)],
                                 range=[-lim, lim], tickvals=imf_yticks[i], ticklen=3,
                                 ticklabelstandoff=-7,
                                 tickfont=dict(family=TICK_FONT, size=19, color="black"),
                                 anchor="x%d" % n)
    cx = (left + right) / 2
    annotations.append(dict(text="<b>%s</b>" % imf_titles[i], x=px_x(cx), y=px_y(top - 27),
                            xref="paper", yref="paper", showarrow=False,
                            font=dict(family=BOLD_FONT, size=BOLD_SIZE, color="black"),
                            xanchor="center", yanchor="middle"))
    annotations.append(dict(text="<b>ECG</b>", x=px_x(left - 71), y=px_y((top + bottom) / 2),
                            xref="paper", yref="paper", showarrow=False, textangle=-90,
                            font=dict(family=BOLD_FONT, size=BOLD_SIZE, color="black"),
                            xanchor="center", yanchor="middle"))
    if row == 3:
        annotations.append(dict(text="<b>Nombre d\"échantillon</b>", x=px_x(cx), y=px_y(587),
                                xref="paper", yref="paper", showarrow=False,
                                font=dict(family=BOLD_FONT, size=BOLD_SIZE, color="black"),
                                xanchor="center", yanchor="middle"))

layout["annotations"] = annotations
fig.update_layout(**layout)
fig.write_html("out.html")
